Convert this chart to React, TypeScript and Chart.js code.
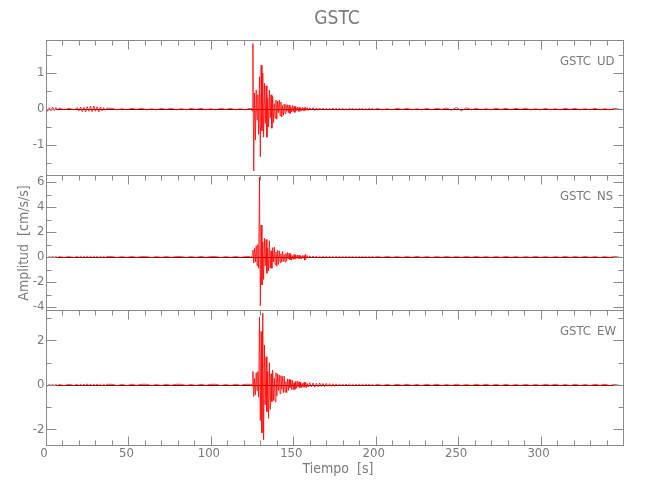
import React, { useEffect, useRef } from "react";
import { Chart, registerables } from "chart.js";

Chart.register(...registerables);

// ---------- data ----------
const chartTitle = "GSTC";
const stationName = "GSTC";
const componentNames = ["UD", "NS", "EW"];

const times = [
  0, 1, 2, 3, 4, 5, 6, 7, 8,
  11, 14, 17,
  19, 20, 21, 22, 23, 24, 25, 26, 27, 28, 29, 30, 31, 32, 33, 34, 35, 36, 37,
  40, 43, 46, 49, 52, 55, 58, 61, 64, 67, 70, 73, 76, 79, 82, 85, 88, 91, 94, 97, 100, 103, 106, 109, 112, 115, 118, 121,
  123.5, 124, 124.5, 125, 125.5, 126, 126.5, 127, 127.5, 128, 128.5, 129, 129.5, 130, 130.5, 131, 131.5, 132, 132.5, 133, 133.5, 134, 134.5, 135, 135.5, 136, 136.5, 137, 137.5, 138, 138.5, 139, 139.5, 140, 140.5, 141, 141.5, 142, 142.5, 143, 143.5, 144, 144.5, 145, 145.5, 146, 146.5, 147, 147.5, 148, 148.5, 149, 149.5, 150, 150.5, 151, 151.5, 152, 152.5, 153, 153.5, 154, 154.5, 155, 155.5, 156, 156.5, 157, 157.5, 158, 158.5, 159,
  160, 161, 162, 163, 164, 165, 166, 167, 168, 169, 170, 171, 172, 173, 174, 175, 176, 177, 178, 179, 180, 181, 182, 183, 184, 185, 186, 187, 188, 189, 190, 191, 192, 193, 194, 195, 196, 197, 198, 199,
  201, 204, 207, 210, 213, 216, 219, 222, 225, 228, 231, 234, 237, 240, 243, 246, 249, 252, 255, 258, 261, 264, 267, 270, 273, 276, 279, 282, 285, 288, 291, 294, 297, 300, 303, 306, 309, 312, 315, 318, 321, 324, 327, 330, 333, 336, 339, 342, 345, 348,
];

const udValues = [
  0.05, -0.06, 0.04, -0.05, 0.06, -0.04, 0.05, -0.03, 0.03,
  -0.02, 0.02, -0.02,
  0.04, -0.05, 0.06, -0.07, 0.05, -0.08, 0.07, -0.06, 0.08, -0.07, 0.09, -0.06, 0.07, -0.08, 0.06, -0.05, 0.04, -0.03, 0.03,
  0.02, -0.02, 0.01, -0.02, 0.02, -0.01, 0.02, -0.02, 0.01, -0.02, 0.02, -0.01, 0.02, -0.02, 0.01, -0.02, 0.02, -0.01, 0.02, -0.02, 0.01, -0.02, 0.02, -0.01, 0.02, -0.02, 0.01, -0.02,
  0.02, -0.02, 0.03, -0.05,
  1.82, -1.72, 0.45, -0.86, 0.53, -0.3, 0.4, -0.7,
  0.9, -1.32, 1.22, -0.6, 1.0, -0.78, 0.72, -0.4,
  0.65, -0.78, 0.3, -0.5, 0.53, -0.25, 0.4, -0.53,
  0.35, -0.38, 0.15, -0.25, 0.25, -0.28, 0.22, -0.1,
  0.25, -0.18, 0.2, -0.22, 0.1, -0.17, 0.14, -0.12,
  0.13, -0.06, 0.12, -0.1, 0.11, -0.12, 0.05, -0.08,
  0.1, -0.07, 0.08, -0.09, 0.07, -0.04, 0.06, -0.07,
  0.05, -0.06, 0.03, -0.04, 0.05, -0.05, 0.04, -0.04,
  0.05, -0.03, 0.04, -0.04,
  0.04, -0.03, 0.04, -0.04, 0.03, -0.03, 0.03, -0.02, 0.03, -0.03, 0.02, -0.03, 0.02, -0.02, 0.03, -0.02, 0.02, -0.02, 0.02, -0.02,
  0.02, -0.02, 0.01, -0.02, 0.02, -0.01, 0.02, -0.02, 0.01, -0.02, 0.02, -0.01, 0.02, -0.02, 0.01, -0.02, 0.02, -0.01, 0.02, -0.02,
  0.02, -0.02, 0.01, -0.02, 0.02, -0.01, 0.02, -0.02, 0.01, -0.02, 0.02, -0.02, 0.02, -0.01, 0.03, -0.03, 0.05, -0.05, 0.04,
  -0.02, 0.02, -0.02, 0.01, -0.02, 0.02, -0.01, 0.02, -0.02, 0.02, -0.01, 0.02, -0.02, 0.01, -0.02, 0.02, -0.02, 0.01, -0.02, 0.02, -0.01, 0.02, -0.02, 0.01, -0.02, 0.02, -0.02, 0.01, -0.02, 0.02, -0.01,
];

const nsValues = [
  0.04, -0.05, 0.03, -0.04, 0.04, -0.03, 0.04, -0.04, 0.03,
  -0.03, 0.03, -0.04,
  0.04, -0.05, 0.05, -0.06, 0.05, -0.05, 0.06, -0.05, 0.06, -0.05, 0.05, -0.04, 0.05, -0.05, 0.04, -0.04, 0.03, -0.04, 0.03,
  0.03, -0.04, 0.03, -0.03, 0.04, -0.03, 0.03, 0.03, -0.04, 0.03, -0.03, 0.04, -0.03, 0.03, 0.03, -0.04, 0.03, -0.03, 0.04, -0.03, 0.03, 0.03, -0.04, 0.03, -0.03, 0.04, -0.03, 0.03,
  0.03, -0.04, 0.05, -0.05,
  0.56, -0.48, 0.7, -0.4, 0.9, -0.7, 1.0, -0.9,
  6.4, -3.9, 2.56, -2.24, 1.2, -1.8, 1.5, -0.7,
  1.4, -1.3, 0.7, -1.1, 1.3, -0.9, 0.5, -0.9,
  0.75, -0.4, 0.8, -0.6, 0.4, -0.75, 0.55, -0.6,
  0.5, -0.45, 0.25, -0.4, 0.45, -0.35, 0.2, -0.4,
  0.3, -0.3, 0.35, -0.15, 0.3, -0.22, 0.2, -0.25,
  0.1, -0.18, 0.2, -0.17, 0.15, -0.1, 0.15, -0.14,
  0.15, -0.13, 0.08, -0.14, 0.12, -0.1, 0.12, -0.25,
  0.22, -0.1, 0.1, -0.09,
  0.09, -0.08, 0.08, -0.07, 0.08, -0.07, 0.06, -0.07, 0.06, -0.05, 0.05, -0.05, 0.04, -0.05, 0.04, -0.04, 0.04, -0.04, 0.03, -0.04,
  0.03, -0.03, 0.04, -0.03, 0.03, -0.03, 0.03, -0.04, 0.03, -0.03, 0.03, -0.03, 0.04, -0.03, 0.03, -0.03, 0.03, -0.03, 0.04, -0.03,
  0.03, -0.03, 0.04, -0.03, 0.03, -0.04, 0.03, -0.03, 0.04, -0.03, 0.03, -0.04, 0.03, -0.03, 0.04, -0.03, 0.03, -0.03, 0.04, -0.03,
  0.04, -0.03, 0.03, -0.04, 0.03, -0.03, 0.04, -0.03, 0.03, -0.04, 0.03, -0.03, 0.04, -0.03, 0.03, -0.04, 0.03, -0.03, 0.04, -0.03,
  0.03, -0.03, 0.04, -0.03, 0.03, -0.04, 0.03, -0.03, 0.04, -0.03,
];

const ewValues = [
  0.03, -0.04, 0.03, -0.03, 0.03, -0.03, 0.03, -0.03, 0.02,
  -0.03, 0.03, -0.03,
  0.03, -0.04, 0.04, -0.05, 0.04, -0.04, 0.05, -0.04, 0.04, -0.05, 0.04, -0.04, 0.04, -0.03, 0.03, -0.04, 0.03, -0.03, 0.03,
  0.03, -0.03, 0.02, -0.03, 0.03, -0.02, 0.03, 0.03, -0.03, 0.02, -0.03, 0.03, -0.02, 0.03, 0.03, -0.03, 0.02, -0.03, 0.03, -0.02, 0.03, 0.03, -0.03, 0.02, -0.03, 0.03, -0.02, 0.03,
  0.03, -0.03, 0.04, -0.05,
  0.6, -0.52, 0.3, -0.45, 0.55, -0.25, 0.6, -0.55,
  3.06, -1.6, 2.4, -2.15, 3.23, -2.47, 1.8, -0.9,
  1.27, -1.2, 0.6, -1.5, 1.0, -1.1, 0.5, -0.75,
  0.67, -0.7, 0.3, -0.75, 0.55, -0.5, 0.5, -0.25,
  0.45, -0.4, 0.42, -0.2, 0.38, -0.35, 0.4, -0.32,
  0.15, -0.35, 0.27, -0.25, 0.25, -0.12, 0.24, -0.2,
  0.2, -0.22, 0.1, -0.2, 0.17, -0.15, 0.18, -0.08,
  0.14, -0.13, 0.12, -0.12, 0.07, -0.11, 0.12, -0.1,
  0.11, -0.12, 0.06, -0.09,
  0.1, -0.09, 0.09, -0.1, 0.08, -0.08, 0.09, -0.07, 0.07, -0.08, 0.07, -0.06, 0.06, -0.06, 0.05, -0.06, 0.05, -0.05, 0.05, -0.04,
  0.04, -0.04, 0.04, -0.03, 0.04, -0.03, 0.03, -0.04, 0.03, -0.03, 0.03, -0.03, 0.03, -0.03, 0.03, -0.02, 0.03, -0.03, 0.02, -0.03,
  0.03, -0.03, 0.02, -0.03, 0.03, -0.02, 0.03, -0.03, 0.02, -0.03, 0.03, -0.02, 0.03, -0.03, 0.02, -0.03, 0.03, -0.03, 0.02, -0.03,
  0.03, -0.02, 0.03, -0.03, 0.02, -0.03, 0.03, -0.03, 0.02, -0.03, 0.03, -0.03, 0.02, -0.03, 0.03, -0.02, 0.03, -0.03, 0.02, -0.03,
  0.03, -0.03, 0.02, -0.03, 0.03, -0.02, 0.03, -0.03, 0.02, -0.03,
];

// axis ranges and ticks
const xMin = 0;
const xMax = 350;
const xMajorTicks = [0, 50, 100, 150, 200, 250, 300];
const xMinorTicks = [10, 20, 30, 40, 60, 70, 80, 90, 110, 120, 130, 140, 160, 170, 180, 190, 210, 220, 230, 240, 260, 270, 280, 290, 310, 320, 330, 340];

const udRange = [-1.83, 1.92];
const nsRange = [-4.24, 6.56];
const ewRange = [-2.7, 3.37];
const udMajorTicks = [-1, 0, 1];
const udMinorTicks = [-1.5, -0.5, 0.5, 1.5];
const nsMajorTicks = [-4, -2, 0, 2, 4, 6];
const nsMinorTicks = [-3, -1, 1, 3, 5];
const ewMajorTicks = [-2, 0, 2];
const ewMinorTicks = [-1, 1, 3];

const xTitle = "Tiempo  [s]";
const yTitle = "Amplitud  [cm/s/s]";

// ---------- styling ----------
const FONT = "'Liberation Sans Narrow', 'DejaVu Sans Condensed', 'Arial Narrow', sans-serif";
const AXIS_COLOR = "#8a8a8a";
const TEXT_COLOR = "#7a7a7a";
const TRACE_COLOR = "rgba(255, 0, 0, 0.8)";

const panels = [
  { id: "yUD", name: componentNames[0], values: udValues, range: udRange, major: udMajorTicks, minor: udMinorTicks },
  { id: "yNS", name: componentNames[1], values: nsValues, range: nsRange, major: nsMajorTicks, minor: nsMinorTicks },
  { id: "yEW", name: componentNames[2], values: ewValues, range: ewRange, major: ewMajorTicks, minor: ewMinorTicks },
];

const framePlugin = {
  id: "seismoFrame",
  beforeDatasetsDraw(chart: any) {
    const { ctx, chartArea } = chart;
    ctx.save();
    ctx.strokeStyle = "#800000";
    ctx.lineWidth = 1;
    panels.forEach((p) => {
      const s = chart.scales[p.id];
      const y = Math.round(s.getPixelForValue(0)) + 0.5;
      ctx.beginPath();
      ctx.moveTo(chartArea.left, y);
      ctx.lineTo(chartArea.right, y);
      ctx.stroke();
    });
    ctx.restore();
  },
  afterDraw(chart: any) {
    const { ctx, chartArea } = chart;
    const xs = chart.scales.x;
    const L = Math.round(chartArea.left) + 0.5;
    const R = Math.round(chartArea.right) + 0.5;
    ctx.save();
    ctx.strokeStyle = AXIS_COLOR;
    ctx.lineWidth = 1;
    const line = (x1: number, y1: number, x2: number, y2: number) => {
      ctx.beginPath();
      ctx.moveTo(x1, y1);
      ctx.lineTo(x2, y2);
      ctx.stroke();
    };
    panels.forEach((p, i) => {
      const s = chart.scales[p.id];
      const T = Math.round(s.top) + 0.5;
      const B = Math.round(s.bottom) + 0.5;
      ctx.strokeRect(L, T, R - L, B - T);
      xMajorTicks.forEach((v) => {
        const px = Math.round(xs.getPixelForValue(v)) + 0.5;
        line(px, T, px, T + 9);
      });
      xMinorTicks.forEach((v) => {
        const px = Math.round(xs.getPixelForValue(v)) + 0.5;
        line(px, T, px, T + 5);
      });
      if (i === panels.length - 1) {
        xMajorTicks.forEach((v) => {
          const px = Math.round(xs.getPixelForValue(v)) + 0.5;
          line(px, B, px, B - 9);
        });
        xMinorTicks.forEach((v) => {
          const px = Math.round(xs.getPixelForValue(v)) + 0.5;
          line(px, B, px, B - 5);
        });
      }
      p.major.forEach((v) => {
        const py = Math.round(s.getPixelForValue(v)) + 0.5;
        line(L, py, L + 10, py);
        line(R, py, R - 10, py);
      });
      p.minor.forEach((v) => {
        const py = Math.round(s.getPixelForValue(v)) + 0.5;
        line(L, py, L + 5, py);
        line(R, py, R - 5, py);
      });
      ctx.fillStyle = TEXT_COLOR;
      ctx.font = `13px ${FONT}`;
      ctx.textAlign = "right";
      ctx.textBaseline = "middle";
      p.major.forEach((v) => {
        const py = s.getPixelForValue(v);
        ctx.fillText(String(v), L - 2, py);
      });
      ctx.textAlign = "left";
      ctx.fillText(stationName, 560, s.top + 22);
      ctx.fillText(p.name, 597, s.top + 22);
    });
    const lastScale = chart.scales[panels[panels.length - 1].id];
    ctx.fillStyle = TEXT_COLOR;
    ctx.font = `13px ${FONT}`;
    ctx.textAlign = "center";
    ctx.textBaseline = "middle";
    xMajorTicks.forEach((v) => {
      ctx.fillText(String(v), xs.getPixelForValue(v) - 2, lastScale.bottom + 9);
    });
    ctx.font = `14px ${FONT}`;
    ctx.fillText(xTitle, 338, 469);
    ctx.save();
    ctx.translate(24, 243);
    ctx.rotate(-Math.PI / 2);
    ctx.fillText(yTitle, 0, 0);
    ctx.restore();
    ctx.font = `19px ${FONT}`;
    ctx.fillText(chartTitle, 337, 19);
    ctx.restore();
  },
};

export default function App() {
  const canvasRef = useRef<HTMLCanvasElement | null>(null);

  useEffect(() => {
    document.body.style.margin = "0";
    const canvas = canvasRef.current;
    if (!canvas) return;

    const datasets = panels.map((p) => ({
      label: p.name,
      data: times.map((t, i) => ({ x: t, y: p.values[i] })),
      yAxisID: p.id,
      borderColor: TRACE_COLOR,
      borderWidth: 1,
      pointRadius: 0,
      tension: 0,
      fill: false,
    }));

    const yScale = (p: any) => ({
      type: "linear",
      display: false,
      position: "left",
      stack: "panels",
      stackWeight: 1,
      min: p.range[0],
      max: p.range[1],
    });

    const scales: any = {
      x: { type: "linear", display: false, min: xMin, max: xMax },
      yEW: yScale(panels[2]),
      yNS: yScale(panels[1]),
      yUD: yScale(panels[0]),
    };

    const chart = new Chart(canvas, {
      type: "line",
      data: { datasets: datasets as any },
      options: {
        animation: false,
        responsive: false,
        maintainAspectRatio: false,
        parsing: false as any,
        normalized: true,
        layout: { padding: { left: 46, right: 27, top: 40, bottom: 55 } },
        plugins: { legend: { display: false }, tooltip: { enabled: false }, title: { display: false } },
        scales,
      },
      plugins: [framePlugin],
    });
    return () => chart.destroy();
  }, []);

  return (
    <div style={{ position: "fixed", left: 0, top: 0, width: 650, height: 500, background: "#fff" }}>
      <canvas ref={canvasRef} width={650} height={500} style={{ width: 650, height: 500, display: "block" }} />
    </div>
  );
}
